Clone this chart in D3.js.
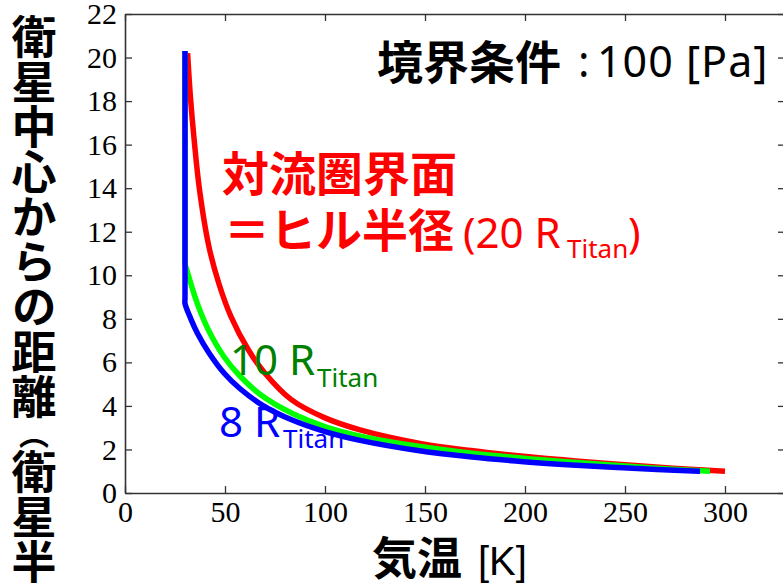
<!DOCTYPE html>
<html><head><meta charset="utf-8">
<script src="https://cdn.jsdelivr.net/npm/d3@7"></script>
<style>html,body{margin:0;padding:0;background:#fff;overflow:hidden}</style>
</head><body>
<svg id="c" width="783" height="583"></svg>
<script>
// ---- data ----
const xTicks = [0, 50, 100, 150, 200, 250, 300];
const yTicks = [0, 2, 4, 6, 8, 10, 12, 14, 16, 18, 20, 22];

// temperature [K] and distance [R_Titan], ordered from the surface upward
const redTemp  = [300, 274, 250, 227, 202, 173, 147.5, 117.5, 100, 83, 70, 61.5, 53, 47, 42, 37.3, 34.6, 32.7, 31.3];
const redDist  = [1.0, 1.14, 1.3, 1.46, 1.66, 1.95, 2.28, 2.9, 3.45, 4.3, 5.5, 6.6, 8.1, 9.6, 11.3, 13.9, 16.2, 18.2, 20.2];
const greenTemp = [292.5, 268, 245, 226, 205, 176, 146, 119, 101, 83.5, 68, 57, 49.5, 41.7, 37, 34, 31.7, 30, 30, 30];
const greenDist = [1.0, 1.12, 1.27, 1.4, 1.55, 1.8, 2.16, 2.59, 3.02, 3.66, 4.5, 5.42, 6.26, 7.49, 8.5, 9.3, 10.0, 10.55, 10.8, 20.3];
const blueTemp = [287.5, 266, 243.6, 221, 199.3, 173.5, 147.2, 116.9, 100, 83.6, 68.6, 57.4, 49.6, 42.1, 36.2, 32.9, 30, 30, 30];
const blueDist = [1.0, 1.08, 1.18, 1.3, 1.44, 1.65, 1.94, 2.43, 2.82, 3.35, 4.04, 4.8, 5.5, 6.42, 7.34, 8.0, 8.7, 8.95, 20.3];

const seriesNames = ["20 R_Titan", "10 R_Titan", "8 R_Titan"];
const seriesColors = ["#ff0000", "#00ff00", "#0000ff"];

const yTitleA = "衛星中心からの距離";
const yTitleParen = "︵";
const yTitleB = "衛星半径";
const xTitleJa = "気温";
const xTitleUnit = "[K]";
const condJa = "境界条件";
const condColon = ":";
const condVal = "100 [Pa]";
const redLine1 = "対流圏界面";
const redLine2 = "＝ヒル半径";
const redLine2b = "(20 R";
const sub = "Titan";
const greenLab = "10 R";
const blueLab = "8 R";

// ---- chart ----
const svg = d3.select("#c");
const x = d3.scaleLinear().domain([0, 330]).range([125, 785]);
const y = d3.scaleLinear().domain([0, 22]).range([493, 14]);

const axisColor = "#333";
const serif = "'Liberation Serif', 'Times New Roman', 'DejaVu Serif', serif";
function styleAxis(g, showLabels) {
  g.attr("font-family", serif).attr("font-size", 30);
  g.selectAll("path.domain").attr("stroke", axisColor).attr("stroke-width", 1.6);
  g.selectAll(".tick line").attr("stroke", axisColor).attr("stroke-width", 1.3);
  g.selectAll(".tick text").attr("fill", "#000")
    .style("font-family", serif).style("font-size", "30px");
  if (!showLabels) g.selectAll(".tick text").remove();
}

svg.append("g").attr("transform", "translate(0,493)")
  .call(d3.axisBottom(x).tickValues(xTicks).tickSizeInner(-7).tickSizeOuter(0).tickPadding(8))
  .call(g => styleAxis(g, true));
svg.append("g").attr("transform", "translate(125,0)")
  .call(d3.axisLeft(y).tickValues(yTicks).tickSizeInner(-7).tickSizeOuter(0).tickPadding(8))
  .call(g => styleAxis(g, true));
svg.append("g").attr("transform", "translate(0,14)")
  .call(d3.axisTop(x).tickValues(xTicks).tickSizeInner(-7).tickSizeOuter(0).tickFormat(""))
  .call(g => styleAxis(g, false));
svg.append("g").attr("transform", "translate(785,0)")
  .call(d3.axisRight(y).tickValues(yTicks).tickSizeInner(-7).tickSizeOuter(0).tickFormat(""))
  .call(g => styleAxis(g, false));

const series = [
  {name: seriesNames[0], color: seriesColors[0], pts: d3.zip(redTemp, redDist)},
  {name: seriesNames[1], color: seriesColors[1], pts: d3.zip(greenTemp, greenDist)},
  {name: seriesNames[2], color: seriesColors[2], pts: d3.zip(blueTemp, blueDist)}
];
const line = d3.line().x(d => x(d[0])).y(d => y(d[1])).curve(d3.curveCatmullRom.alpha(0.5));
svg.append("g").selectAll("path").data(series).join("path")
  .attr("d", d => line(d.pts))
  .attr("fill", "none").attr("stroke", d => d.color)
  .attr("stroke-width", 5.5).attr("stroke-linejoin", "miter").attr("stroke-linecap", "butt");

// ---- texts ----
const ja = "'Noto Sans CJK JP', sans-serif";
const lat = "'Noto Sans', sans-serif";

const yt = svg.append("text").attr("x", 34).attr("y", 14)
  .style("writing-mode", "vertical-rl").style("font-family", ja)
  .style("font-weight", "bold").style("font-size", "45px").attr("fill", "#000");
yt.append("tspan").text(yTitleA);
yt.append("tspan").style("font-size", "30px").text(yTitleParen);
yt.append("tspan").text(yTitleB);

svg.append("text").attr("x", 372).attr("y", 575)
  .style("font-family", ja).style("font-weight", "bold").style("font-size", "45px")
  .text(xTitleJa);
svg.append("text").attr("x", 478).attr("y", 575)
  .style("font-family", "'Liberation Sans', sans-serif").style("font-size", "40px")
  .text(xTitleUnit);

svg.append("text").attr("x", 377).attr("y", 79)
  .style("font-family", ja).style("font-weight", "bold").style("font-size", "46px")
  .text(condJa);
svg.append("text").attr("x", 578).attr("y", 77)
  .style("font-family", lat).style("font-size", "43px")
  .text(condColon);
svg.append("text").attr("x", 597).attr("y", 77)
  .style("font-family", lat).style("font-size", "43px").style("letter-spacing", "1px")
  .text(condVal);

const red = seriesColors[0];
svg.append("text").attr("x", 222).attr("y", 191).attr("fill", red)
  .style("font-family", ja).style("font-weight", "bold").style("font-size", "47px")
  .text(redLine1);
svg.append("text").attr("x", 224).attr("y", 247).attr("fill", red)
  .style("font-family", ja).style("font-weight", "bold").style("font-size", "46px")
  .text(redLine2);
svg.append("text").attr("x", 463).attr("y", 248).attr("fill", red)
  .style("font-family", lat).style("font-size", "42px").text(redLine2b);
svg.append("text").attr("x", 567).attr("y", 258).attr("fill", red)
  .style("font-family", lat).style("font-size", "26px").text(sub);
svg.append("text").attr("x", 628).attr("y", 248).attr("fill", red)
  .style("font-family", lat).style("font-size", "42px").text(")");

svg.append("text").attr("x", 230).attr("y", 375).attr("fill", "#008000")
  .style("font-family", lat).style("font-size", "42px").text(greenLab);
svg.append("text").attr("x", 317).attr("y", 387).attr("fill", "#008000")
  .style("font-family", lat).style("font-size", "26px").text(sub);

svg.append("text").attr("x", 219).attr("y", 437).attr("fill", "#0000ff")
  .style("font-family", lat).style("font-size", "42px").text(blueLab);
svg.append("text").attr("x", 283).attr("y", 448).attr("fill", "#0000ff")
  .style("font-family", lat).style("font-size", "26px").text(sub);
</script>
</body></html>
